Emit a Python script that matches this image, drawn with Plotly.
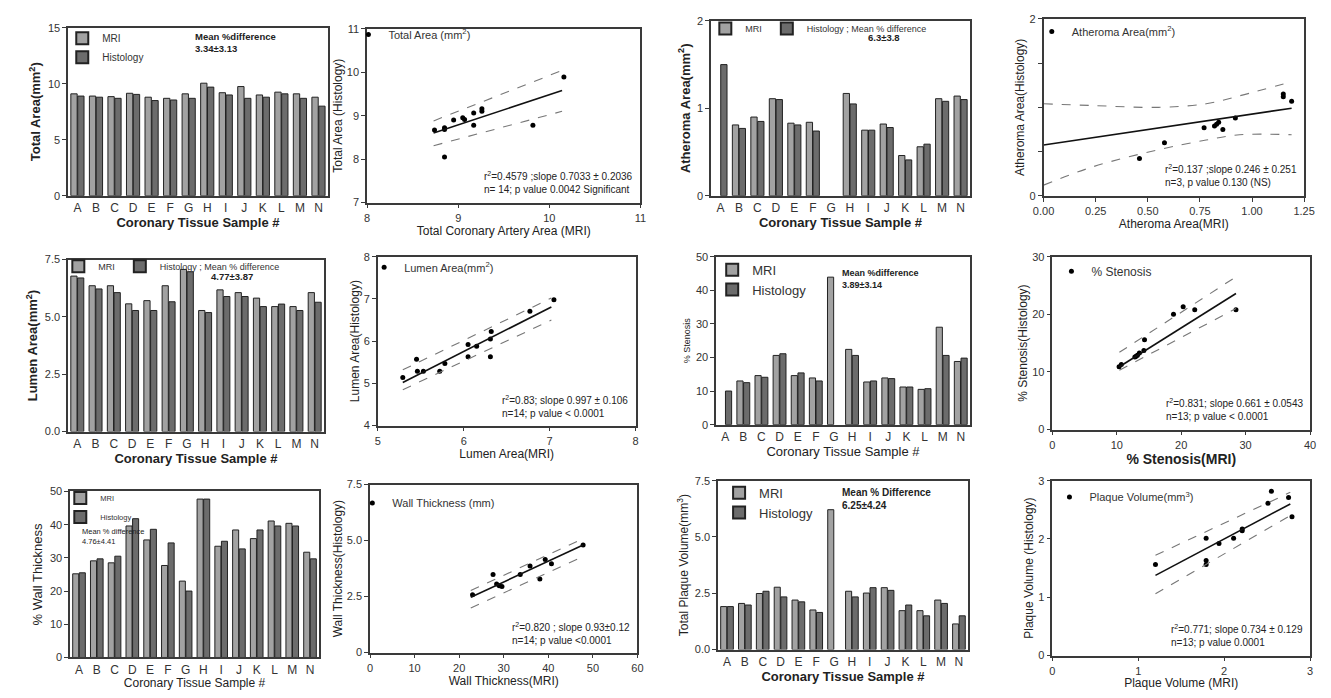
import plotly.graph_objects as go

# page body has an 8px margin: figure is sized/offset so the screen layout matches 1331x698
OFF = 8
W, H = 1331 - 2 * OFF, 698 - 2 * OFF
FONT = "Liberation Sans, Arial, sans-serif"

samples = list("ABCDEFGHIJKLMN")

# ---- bar chart data (MRI vs Histology) ----
total_mri = [9.1, 8.9, 8.85, 9.15, 8.8, 8.7, 9.1, 10.05, 9.2, 9.75, 9.0, 9.25, 9.1, 8.8]
total_hist = [8.9, 8.8, 8.7, 9.05, 8.5, 8.55, 8.7, 9.7, 9.0, 8.7, 8.8, 9.1, 8.7, 8.0]
ath_mri = [None, 0.81, 0.9, 1.11, 0.83, 0.84, None, 1.17, 0.75, 0.82, 0.46, 0.56, 1.11, 1.14]
ath_hist = [1.5, 0.77, 0.85, 1.1, 0.81, 0.74, None, 1.05, 0.75, 0.78, 0.41, 0.59, 1.08, 1.1]
lumen_mri = [6.78, 6.36, 6.36, 5.57, 5.71, 6.36, 7.07, 5.28, 6.18, 6.06, 5.82, 5.45, 5.45, 6.06]
lumen_hist = [6.7, 6.22, 6.06, 5.28, 5.28, 5.66, 6.97, 5.19, 5.89, 5.89, 5.45, 5.56, 5.28, 5.64]
sten_mri = [None, 13.0, 14.6, 20.6, 14.6, 13.9, 43.9, 22.4, 12.7, 13.9, 11.2, 10.5, 29.0, 18.8]
sten_hist = [10.0, 12.5, 14.1, 21.1, 15.4, 13.0, None, 20.6, 13.0, 13.7, 11.2, 10.7, 20.6, 19.8]
wall_mri = [25.2, 29.1, 28.5, 39.6, 35.4, 27.7, 23.0, 47.7, 33.5, 38.4, 35.8, 41.1, 40.4, 31.7]
wall_hist = [25.5, 29.7, 30.5, 41.8, 38.6, 34.5, 20.0, 47.7, 35.0, 32.7, 38.4, 39.6, 39.6, 29.7]
plaque_mri = [1.91, 2.05, 2.49, 2.77, 2.2, 1.76, 6.21, 2.59, 2.51, 2.75, 1.73, 1.73, 2.2, 1.14]
plaque_hist = [1.91, 1.98, 2.59, 2.34, 2.12, 1.65, None, 2.34, 2.75, 2.63, 1.98, 1.5, 2.05, 1.5]

# ---- scatter / regression data ----
ta_x = [8.74, 8.85, 8.85, 8.85, 8.95, 9.05, 9.07, 9.17, 9.17, 9.26, 9.26, 9.82, 10.16]
ta_y = [8.67, 8.68, 8.72, 8.05, 8.9, 8.95, 8.91, 9.06, 8.78, 9.16, 9.1, 8.78, 9.89]
ta_fit_x = [8.73, 10.14]
ta_fit_y = [8.6, 9.58]
ta_up_y = [8.88, 10.04]
ta_lo_y = [8.31, 9.1]

at_x = [0.46, 0.58, 0.77, 0.82, 0.84, 0.83, 0.86, 0.92, 1.15, 1.15, 1.19]
at_y = [0.42, 0.6, 0.77, 0.79, 0.83, 0.81, 0.75, 0.88, 1.12, 1.15, 1.07]
at_fit_x = [0.0, 1.19]
at_fit_y = [0.574, 0.99]
at_band_x = [0.0, 0.24, 0.55, 0.78, 0.94, 1.19]
at_up_y = [1.04, 1.02, 1.0, 1.04, 1.13, 1.29]
at_lo_y = [0.12, 0.33, 0.52, 0.63, 0.69, 0.69]

lu_x = [5.29, 5.45, 5.46, 5.53, 5.72, 5.78, 6.05, 6.05, 6.15, 6.31, 6.32, 6.31, 6.77, 7.05]
lu_y = [5.14, 5.57, 5.29, 5.29, 5.29, 5.47, 5.63, 5.92, 5.88, 6.05, 6.23, 5.63, 6.71, 6.98]
lu_fit_x = [5.29, 7.02]
lu_fit_y = [5.02, 6.81]
lu_up_y = [5.32, 7.02]
lu_lo_y = [4.85, 6.5]

st_x = [10.35, 10.7, 12.8, 13.0, 13.2, 13.5, 14.2, 14.3, 18.8, 20.3, 22.1, 28.5]
st_y = [10.9, 11.3, 12.6, 12.7, 12.9, 13.3, 13.7, 15.6, 20.0, 21.3, 20.8, 20.8]
st_fit_x = [10.4, 28.5]
st_fit_y = [10.9, 23.6]
st_up_y = [13.4, 26.5]
st_lo_y = [10.3, 21.0]

wt_x = [23.0, 27.6, 28.4, 29.0, 29.6, 33.7, 35.9, 38.1, 39.3, 40.7, 47.8]
wt_y = [2.58, 3.49, 3.06, 2.98, 2.95, 3.49, 3.86, 3.28, 4.15, 3.96, 4.8]
wt_fit_x = [22.6, 47.8]
wt_fit_y = [2.47, 4.8]
wt_up_y = [2.77, 5.09]
wt_lo_y = [1.99, 4.29]

pv_x = [1.2, 1.79, 1.79, 1.79, 1.94, 2.11, 2.21, 2.21, 2.51, 2.55, 2.75, 2.79]
pv_y = [1.56, 2.01, 1.63, 1.56, 1.92, 2.01, 2.14, 2.17, 2.61, 2.82, 2.71, 2.38]
pv_fit_x = [1.2, 2.77]
pv_fit_y = [1.375, 2.6]
pv_up_y = [1.72, 2.8]
pv_lo_y = [1.06, 2.4]

# ---- layout helpers (panel boxes given in screen pixels) ----
def dx(l, r):
    return [(l - OFF) / W, min(1.0, (r - OFF) / W)]

def dy(t, b):
    return [max(0.0, 1 - (b - OFF) / H), 1 - (t - OFF) / H]

boxes = {
    1: (58, 322, 22, 193), 2: (362, 640, 23, 200), 3: (712, 975, 15, 193), 4: (1050, 1315, 13, 193),
    5: (58, 318, 258, 433), 6: (373, 635, 255, 427), 7: (717, 975, 255, 426), 8: (1059, 1321, 255, 431),
    9: (60, 313, 494, 663), 10: (365, 637, 487, 658), 11: (719, 973, 483, 655), 12: (1059, 1321, 483, 661),
}

LINE = "#3a3a3a"
MRI_C = "#a2a2a2"
HIS_C = "#6c6c6c"

def base_axis(**kw):
    d = dict(showline=True, mirror=True, linecolor=LINE, linewidth=1.6, ticks="outside", ticklen=4,
             tickcolor=LINE, showgrid=False, zeroline=False,
             tickfont=dict(size=11, color="#333", family=FONT))
    d.update(kw)
    return d

fig = go.Figure()
layout = {}
annotations = []

def title(text, size=13, bold=True, standoff=4):
    t = f"<b>{text}</b>" if bold else text
    return dict(text=t, font=dict(size=size, color="#222", family=FONT), standoff=standoff)

def add_bar_panel(i, mri, hist, yr, tickvals, ticktext, ytitle, ysize=13, ybold=True,
                  xbold=True, xsize=13, mri_name="MRI", hist_name="Histology"):
    l, r, t, b = boxes[i]
    s = "" if i == 1 else str(i)
    lg = "legend" if i == 1 else f"legend{i}"
    fig.add_trace(go.Bar(x=samples, y=mri, name=mri_name, xaxis="x" + s, yaxis="y" + s, legend=lg,
                         marker=dict(color=MRI_C, line=dict(color="#222", width=1))))
    fig.add_trace(go.Bar(x=samples, y=hist, name=hist_name, xaxis="x" + s, yaxis="y" + s, legend=lg,
                         marker=dict(color=HIS_C, line=dict(color="#222", width=1))))
    layout["xaxis" + s] = base_axis(domain=dx(l, r), anchor="y" + s, type="category",
                                    categoryorder="array", categoryarray=samples,
                                    range=[-0.5, 13.5], ticks="",
                                    tickfont=dict(size=12, color="#333", family=FONT),
                                    title=title("Coronary Tissue Sample #", xsize, xbold, 0))
    layout["yaxis" + s] = base_axis(domain=dy(t, b), anchor="x" + s, range=yr,
                                    tickvals=tickvals, ticktext=ticktext,
                                    title=title(ytitle, ysize, ybold, 4))

def add_scatter_panel(i, xs, ys, name, fx, fy, uy, ly, band_x, xr, xt, yr, yt,
                      xtitle, ytitle, stats, xsize=12, xbold=False, ytext=None, xfmt=None, yminor=None):
    l, r, t, b = boxes[i]
    s = str(i)
    lg = f"legend{i}"
    fig.add_trace(go.Scatter(x=xs, y=ys, mode="markers", name=name, xaxis="x" + s, yaxis="y" + s,
                             legend=lg, marker=dict(color="black", size=5)))
    fig.add_trace(go.Scatter(x=fx, y=fy, mode="lines", showlegend=False, xaxis="x" + s, yaxis="y" + s,
                             line=dict(color="#111", width=1.6)))
    for yy in (uy, ly):
        fig.add_trace(go.Scatter(x=band_x, y=yy, mode="lines", showlegend=False, xaxis="x" + s,
                                 yaxis="y" + s, line=dict(color="#777", width=1.1, dash="dash",
                                                          shape="spline")))
    xa = base_axis(domain=dx(l, r), anchor="y" + s, range=xr, tickvals=xt,
                   title=title(xtitle, xsize, xbold, 0))
    if xfmt:
        xa["tickformat"] = xfmt
    ya = base_axis(domain=dy(t, b), anchor="x" + s, range=yr, tickvals=yt,
                   title=title(ytitle, 12, False, 2))
    if ytext:
        ya["ticktext"] = ytext
    if yminor:
        ya["minor"] = dict(tickvals=yminor, ticks="outside", ticklen=4, tickcolor=LINE)
    layout["xaxis" + s] = xa
    layout["yaxis" + s] = ya
    annotations.append(dict(xref=f"x{s} domain", yref=f"y{s} domain", x=0.98, y=0.03,
                            xanchor="right", yanchor="bottom", align="left", showarrow=False,
                            text=stats, font=dict(size=10, color="#222", family=FONT)))

# Row 1
add_bar_panel(1, total_mri, total_hist, [0, 15], [0, 5, 10, 15], ["0", "5", "10", "15"],
              "Total Area(mm<sup>2</sup>)")
add_scatter_panel(2, ta_x, ta_y, "Total Area (mm<sup>2</sup>)", ta_fit_x, ta_fit_y, ta_up_y, ta_lo_y, ta_fit_x,
                  [8, 11], [8, 9, 10, 11], [7, 11], [7, 8, 9, 10, 11],
                  "Total Coronary Artery Area (MRI)", "Total Area (Histology)",
                  "r<sup>2</sup>=0.4579 ;slope 0.7033 ± 0.2036<br>n= 14; p value 0.0042 Significant")
add_bar_panel(3, ath_mri, ath_hist, [0, 2], [0, 1, 2], ["0", "1", "2"], "Atheroma Area(mm<sup>2</sup>)",
              hist_name="Histology ; Mean % difference")
add_scatter_panel(4, at_x, at_y, "Atheroma Area(mm<sup>2</sup>)", at_fit_x, at_fit_y, at_up_y, at_lo_y,
                  at_band_x, [0, 1.25], [0, 0.25, 0.5, 0.75, 1.0, 1.25], [0, 2], [0, 2],
                  "Atheroma Area(MRI)", "Atheroma Area(Histology)",
                  "r<sup>2</sup>=0.137 ;slope 0.246 ± 0.251<br>n=3, p value 0.130 (NS)",
                  xfmt=".2f", yminor=[0.5, 1, 1.5])

# Row 2
add_bar_panel(5, lumen_mri, lumen_hist, [0, 7.5], [0, 2.5, 5, 7.5], ["0.0", "2.5", "5.0", "7.5"],
              "Lumen Area(mm<sup>2</sup>)", hist_name="Histology ; Mean % difference")
add_scatter_panel(6, lu_x, lu_y, "Lumen Area(mm<sup>2</sup>)", lu_fit_x, lu_fit_y, lu_up_y, lu_lo_y, lu_fit_x,
                  [5, 8], [5, 6, 7, 8], [4, 8], [4, 5, 6, 7, 8],
                  "Lumen Area(MRI)", "Lumen Area(Histology)",
                  "r<sup>2</sup>=0.83; slope 0.997 ± 0.106<br>n=14; p value < 0.0001")
add_bar_panel(7, sten_mri, sten_hist, [0, 50], [0, 10, 20, 30, 40, 50],
              ["0", "10", "20", "30", "40", "50"], "% Stenosis", ysize=9, ybold=False, xbold=False, xsize=13)
add_scatter_panel(8, st_x, st_y, "% Stenosis", st_fit_x, st_fit_y, st_up_y, st_lo_y, st_fit_x,
                  [0, 40], [0, 10, 20, 30, 40], [0, 30], [0, 10, 20, 30],
                  "% Stenosis(MRI)", "% Stenosis(Histology)",
                  "r<sup>2</sup>=0.831; slope 0.661 ± 0.0543<br>n=13; p value < 0.0001", xsize=14, xbold=True)

# Row 3
add_bar_panel(9, wall_mri, wall_hist, [0, 50], [0, 10, 20, 30, 40, 50],
              ["0", "10", "20", "30", "40", "50"], "% Wall Thickness", ybold=False, xbold=False, xsize=12)
add_scatter_panel(10, wt_x, wt_y, "Wall Thickness (mm)", wt_fit_x, wt_fit_y, wt_up_y, wt_lo_y, wt_fit_x,
                  [0, 60], [0, 10, 20, 30, 40, 50, 60], [0, 7.5], [0, 2.5, 5, 7.5],
                  "Wall Thickness(MRI)", "Wall Thickness(Histology)",
                  "r<sup>2</sup>=0.820 ; slope 0.93±0.12<br>n=14; p value <0.0001",
                  ytext=["0", "2.5", "5.0", "7.5"])
add_bar_panel(11, plaque_mri, plaque_hist, [0, 7.5], [0, 2.5, 5, 7.5], ["0.0", "2.5", "5.0", "7.5"],
              "Total Plaque Volume(mm<sup>3</sup>)", ysize=12, ybold=False)
add_scatter_panel(12, pv_x, pv_y, "Plaque Volume(mm<sup>3</sup>)", pv_fit_x, pv_fit_y, pv_up_y, pv_lo_y,
                  pv_fit_x, [0, 3], [0, 1, 2, 3], [0, 3], [0, 1, 2, 3],
                  "Plaque Volume (MRI)", "Plaque Volume (Histology)",
                  "r<sup>2</sup>=0.771; slope 0.734 ± 0.129<br>n=13; p value 0.0001")

# Mean % difference notes on bar panels
def note(i, x, y, text, size=9.5):
    s = "" if i == 1 else str(i)
    annotations.append(dict(xref=f"x{s} domain", yref=f"y{s} domain", x=x, y=y, xanchor="left",
                            yanchor="top", align="left", showarrow=False, text=text,
                            font=dict(size=size, color="#222", family=FONT)))

note(1, 0.48, 0.99, "<b>Mean %difference<br>3.34±3.13</b>")
note(3, 0.60, 0.945, "<b>6.3±3.8</b>")
note(5, 0.55, 0.944, "<b>4.77±3.87</b>")
note(7, 0.49, 0.943, "<b>Mean %difference<br>3.89±3.14</b>", 9)
note(9, 0.04, 0.80, "Mean % difference<br>4.76±4.41", 7.5)
note(11, 0.49, 0.973, "<b>Mean % Difference<br>6.25±4.24</b>", 10)

# legend positions are in figure pixels (screen minus the page offset)
def leg(x, y, orient="v", size=10, sizing="constant"):
    return dict(x=x / W, y=1 - y / H, xanchor="left", yanchor="top", orientation=orient,
                bgcolor="rgba(0,0,0,0)", font=dict(size=size, color="#333", family=FONT),
                itemsizing=sizing, tracegroupgap=0, itemwidth=30)

layout["legend"] = leg(44, 10, "v", 10)
layout["legend2"] = leg(335, 6, "v", 11, "trace")
layout["legend3"] = leg(698, 0, "h", 9)
layout["legend4"] = leg(1030, 3, "v", 11, "trace")
layout["legend5"] = leg(40, 242, "h", 9)
layout["legend6"] = leg(351, 243, "v", 11, "trace")
layout["legend7"] = leg(705, 245, "v", 13)
layout["legend8"] = leg(1050, 247, "v", 12, "trace")
layout["legend9"] = leg(42, 478, "v", 7.5)
layout["legend10"] = leg(339, 483, "v", 11, "trace")
layout["legend11"] = leg(712, 472, "v", 13)
layout["legend12"] = leg(1048, 477, "v", 11, "trace")

fig.update_layout(**layout)
fig.update_layout(width=W, height=H, margin=dict(l=0, r=0, t=0, b=0), paper_bgcolor="white",
                  plot_bgcolor="white", barmode="group", bargap=0.26, bargroupgap=0.08,
                  font=dict(family=FONT, color="#333"), annotations=annotations, showlegend=True)

fig.write_html("out.html")
